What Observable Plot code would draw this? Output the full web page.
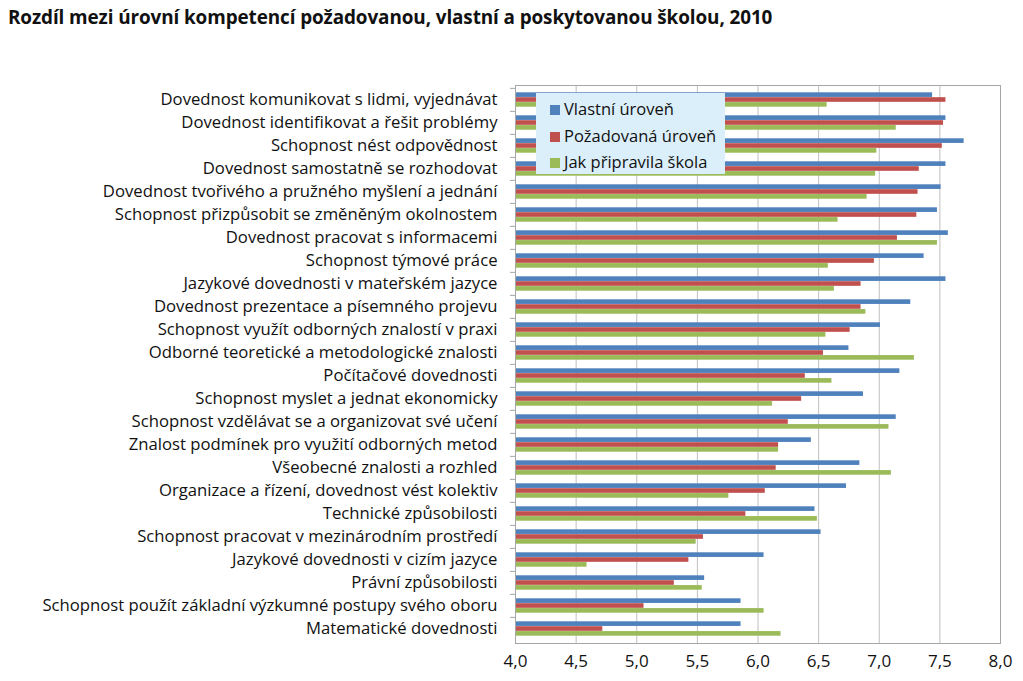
<!DOCTYPE html>
<html><head><meta charset="utf-8">
<script src="https://cdn.jsdelivr.net/npm/d3@7"></script>
<script src="https://cdn.jsdelivr.net/npm/@observablehq/plot@0.6"></script>
<style>
body{margin:0;background:#fff;font-family:"Open Sans",sans-serif;color:#111;}
#wrap{position:relative;width:1023px;height:681px;overflow:hidden;}
#title{position:absolute;left:8px;top:4px;font-weight:bold;font-size:18.9px;white-space:nowrap;letter-spacing:-0.1px;}
#chart{position:absolute;left:0;top:30px;}
#legend{position:absolute;left:536px;top:93px;width:189px;height:81px;background:#dbeffa;box-sizing:border-box;padding:3px 0 0 14px;}
#legend div{height:26.5px;line-height:26.5px;font-size:16.5px;white-space:nowrap;}
#legend span.sw{display:inline-block;width:10px;height:10px;margin-right:4px;vertical-align:0px;}
</style>
</head><body>
<div id="wrap">
<div id="title">Rozdíl mezi úrovní kompetencí požadovanou, vlastní a poskytovanou školou, 2010</div>
<div id="chart"></div>
<div id="legend"></div>
</div>
<script>
const categories = [
  "Dovednost komunikovat s lidmi, vyjednávat",
  "Dovednost identifikovat a řešit problémy",
  "Schopnost nést odpovědnost",
  "Dovednost samostatně se rozhodovat",
  "Dovednost tvořivého a pružného myšlení a jednání",
  "Schopnost přizpůsobit se změněným okolnostem",
  "Dovednost pracovat s informacemi",
  "Schopnost týmové práce",
  "Jazykové dovednosti v mateřském jazyce",
  "Dovednost prezentace a písemného projevu",
  "Schopnost využít odborných znalostí v praxi",
  "Odborné teoretické a metodologické znalosti",
  "Počítačové dovednosti",
  "Schopnost myslet a jednat ekonomicky",
  "Schopnost vzdělávat se a organizovat své učení",
  "Znalost podmínek pro využití odborných metod",
  "Všeobecné znalosti a rozhled",
  "Organizace a řízení, dovednost vést kolektiv",
  "Technické způsobilosti",
  "Schopnost pracovat v mezinárodním prostředí",
  "Jazykové dovednosti v cizím jazyce",
  "Právní způsobilosti",
  "Schopnost použít základní výzkumné postupy svého oboru",
  "Matematické dovednosti"
];
const vlastni    = [7.44,7.55,7.70,7.55,7.51,7.48,7.57,7.37,7.55,7.26,7.01,6.75,7.17,6.87,7.14,6.44,6.84,6.73,6.47,6.52,6.05,5.56,5.86,5.86];
const pozadovana = [7.55,7.53,7.52,7.33,7.32,7.31,7.15,6.96,6.85,6.85,6.76,6.54,6.39,6.36,6.25,6.17,6.15,6.06,5.90,5.55,5.43,5.31,5.06,4.72];
const skola      = [6.57,7.14,6.98,6.97,6.90,6.66,7.48,6.58,6.63,6.89,6.56,7.29,6.61,6.12,7.08,6.17,7.10,5.76,6.49,5.49,4.59,5.54,6.05,6.19];
const seriesNames = ["Vlastní úroveň","Požadovaná úroveň","Jak připravila škola"];
const seriesColors = ["#4f81bd","#c0504d","#9bbb59"];
const xTicks = [4.0,4.5,5.0,5.5,6.0,6.5,7.0,7.5,8.0];
const baseline = 4.0;

const W = 1023, H = 651, mT = 55, mB = 38, mL = 515, mR = 23;
const band = (H - mT - mB) / categories.length;
const pad = band * 0.185;
const barH = (band - 2 * pad) / 3;

const seriesValues = [vlastni, pozadovana, skola];
const rows = seriesValues.map(vals => categories.map((c, i) => ({cat: c, value: vals[i]})));

const fmt = d => d.toFixed(1).replace(".", ",");

const barMarks = rows.map((data, s) => Plot.barX(data, {
  y: "cat", x1: () => baseline, x2: "value",
  fill: seriesColors[s],
  insetTop: pad + s * barH,
  insetBottom: band - pad - (s + 1) * barH
}));

const chart = Plot.plot({
  width: W, height: H,
  marginTop: mT, marginBottom: mB, marginLeft: mL, marginRight: mR,
  style: {fontFamily: "Open Sans, sans-serif", color: "#111", background: "white"},
  x: {domain: [4, 8]},
  y: {domain: categories, padding: 0},
  marks: [
    Plot.gridX(xTicks, {stroke: "#c0c0c0", strokeOpacity: 1}),
    ...barMarks,
    Plot.frame({stroke: "#a6a6a6"}),
    Plot.axisY({tickSize: 0, tickPadding: 18, fontSize: 16.7, label: null, fill: "#111"}),
    Plot.axisY({text: null, tickSize: 5, dy: -band / 2, stroke: "#a6a6a6", label: null}),
    Plot.axisX({ticks: xTicks, tickFormat: fmt, tickSize: 0, tickPadding: 11, fontSize: 17, label: null, fill: "#111"})
  ]
});
document.getElementById("chart").appendChild(chart);

const lg = document.getElementById("legend");
seriesNames.forEach((n, i) => {
  const d = document.createElement("div");
  d.innerHTML = `<span class="sw" style="background:${seriesColors[i]}"></span>${n}`;
  lg.appendChild(d);
});
</script>
</body></html>
